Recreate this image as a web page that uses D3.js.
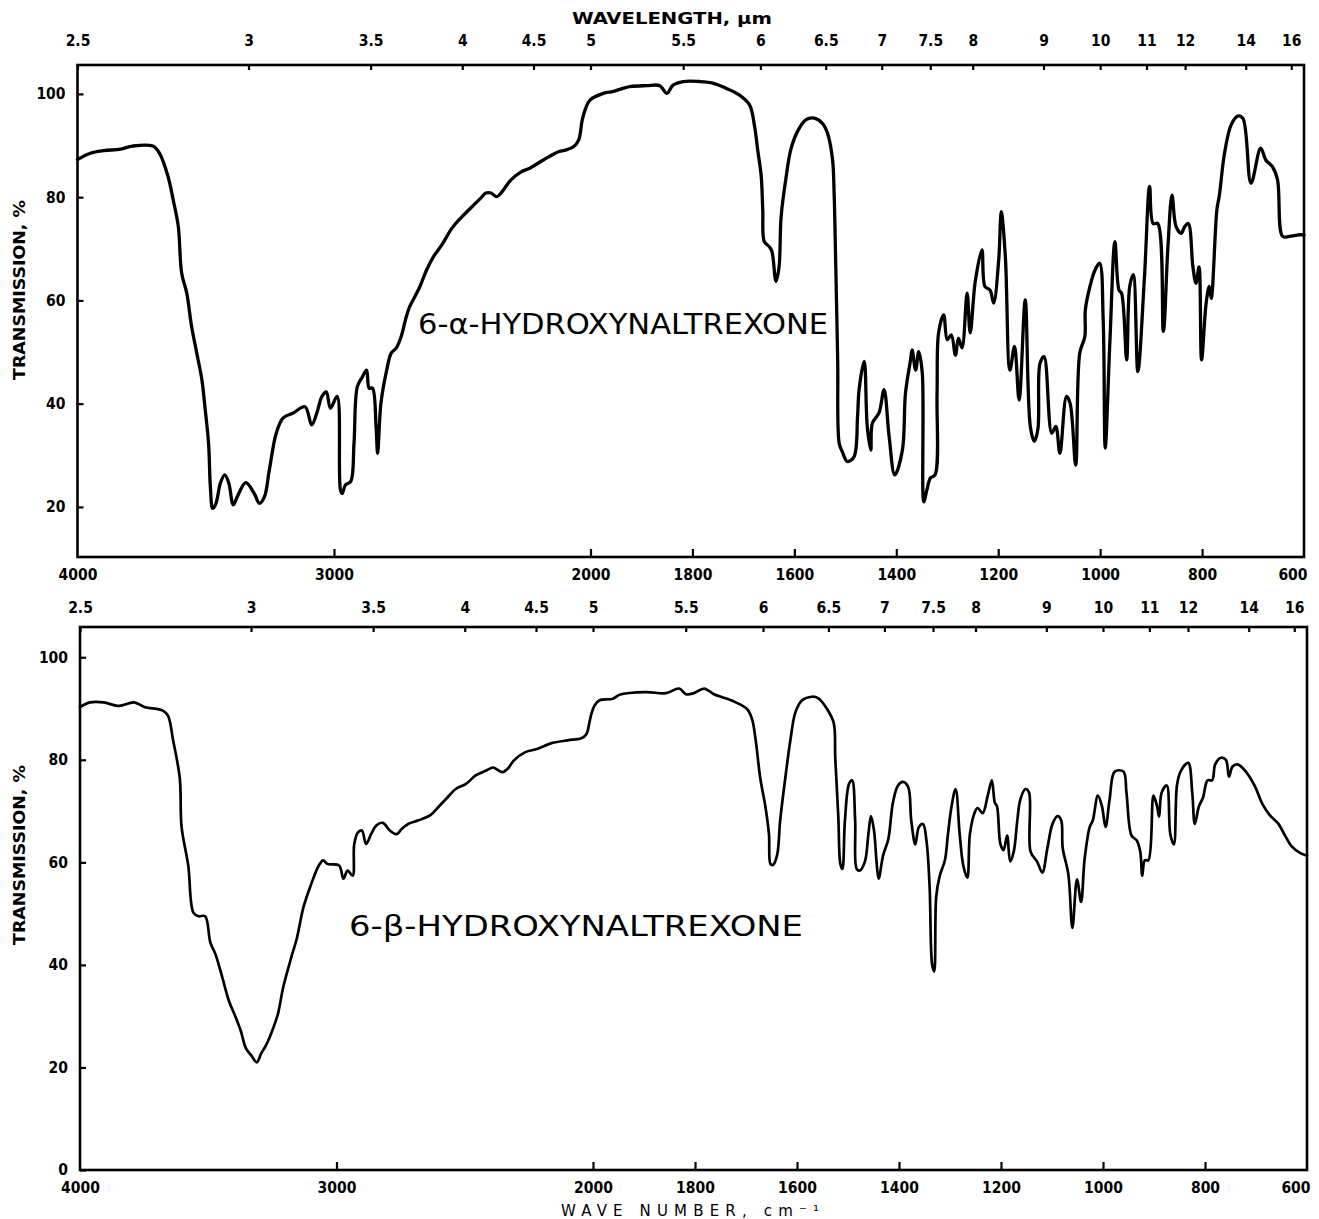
<!DOCTYPE html>
<html><head><meta charset="utf-8">
<script src="https://cdn.jsdelivr.net/npm/d3@7"></script>
<style>
body{margin:0;background:#fff;}
svg text{font-family:'DejaVu Sans Condensed','Liberation Sans Narrow','DejaVu Sans',sans-serif;font-stretch:condensed;fill:#000;}
</style></head><body>
<svg id="c" width="1319" height="1219"></svg>
<script>
// ---- data ----
const wavenumberTicks = [4000, 3000, 2000, 1800, 1600, 1400, 1200, 1000, 800, 600];
const wavelengthTicks = ["2.5","3","3.5","4","4.5","5","5.5","6","6.5","7","7.5","8","9","10","11","12","14","16"];
const transTicksTop = [20, 40, 60, 80, 100];
const transTicksBottom = [0, 20, 40, 60, 80, 100];
const compoundNames = ["6-α-HYDROXYNALTREXONE", "6-β-HYDROXYNALTREXONE"];

// [wavenumber cm-1, transmission %]
const alphaSpectrum = [[4000,87.3],[3950,88.5],[3897,89.0],[3832,89.3],[3785,89.9],[3706,89.9],[3680,88.5],[3647,84.0],[3627,79.5],[3607,74.3],[3594,65.3],[3574,61.4],[3555,54.9],[3535,49.8],[3515,44.6],[3502,38.8],[3489,32.3],[3482,23.9],[3473,19.7],[3460,20.7],[3443,24.6],[3426,26.2],[3410,24.6],[3393,20.4],[3377,22.0],[3344,24.7],[3311,22.6],[3291,20.7],[3271,22.0],[3252,27.2],[3225,34.3],[3199,37.2],[3159,38.2],[3113,39.4],[3087,35.9],[3067,38.2],[3047,41.4],[3030,42.3],[3014,39.1],[2988,41.4],[2975,23.3],[2968,22.6],[2955,24.3],[2935,24.9],[2922,32.3],[2909,43.3],[2889,45.2],[2873,46.5],[2863,43.0],[2850,43.0],[2836,35.6],[2830,30.4],[2817,40.1],[2797,45.9],[2777,49.8],[2757,50.8],[2738,53.0],[2718,56.9],[2705,58.8],[2685,60.7],[2665,62.7],[2639,65.9],[2612,68.5],[2579,70.8],[2540,74.0],[2507,75.9],[2461,78.2],[2428,79.8],[2408,80.8],[2388,80.8],[2366,80.1],[2349,80.8],[2309,83.4],[2270,84.9],[2237,85.6],[2184,87.2],[2125,88.8],[2092,89.2],[2065,89.8],[2046,91.1],[2032,95.0],[2019,97.2],[2002,98.8],[1975,100.1],[1955,100.5],[1923,101.4],[1890,101.6],[1864,101.6],[1850,100.1],[1838,101.7],[1818,102.4],[1786,102.4],[1760,102.1],[1734,101.1],[1708,99.8],[1688,97.9],[1678,93.7],[1672,89.2],[1665,84.0],[1662,77.5],[1659,71.4],[1649,70.4],[1644,69.5],[1636,63.7],[1630,66.5],[1626,76.2],[1616,84.0],[1607,89.2],[1594,92.7],[1577,95.0],[1561,95.3],[1545,94.3],[1535,92.4],[1525,87.2],[1522,80.8],[1519,67.9],[1515,48.5],[1512,32.3],[1506,30.7],[1496,28.8],[1483,29.7],[1476,37.5],[1473,42.7],[1463,48.2],[1457,35.6],[1450,31.0],[1447,36.2],[1434,38.2],[1424,42.7],[1414,33.6],[1403,26.2],[1388,31.0],[1382,42.0],[1372,48.5],[1369,50.4],[1362,46.5],[1356,50.1],[1349,45.9],[1346,21.0],[1340,23.3],[1333,25.6],[1324,26.2],[1320,42.0],[1317,53.7],[1307,57.2],[1300,52.4],[1292,53.3],[1284,49.4],[1278,52.7],[1271,50.8],[1261,61.4],[1255,53.7],[1245,63.7],[1232,69.8],[1226,62.7],[1216,62.0],[1209,59.5],[1199,67.9],[1194,77.2],[1186,68.5],[1177,46.5],[1168,51.1],[1159,40.7],[1147,60.1],[1137,35.6],[1129,32.7],[1122,35.2],[1118,47.8],[1110,49.1],[1095,34.3],[1087,35.6],[1079,30.4],[1066,41.4],[1059,40.1],[1048,28.1],[1040,49.8],[1030,53.0],[1029,58.2],[1020,62.7],[1010,65.9],[1001,67.2],[994,56.2],[990,31.4],[981,51.7],[971,71.4],[963,62.0],[958,61.4],[948,48.5],[942,62.7],[935,65.0],[926,46.2],[913,64.6],[903,82.1],[896,74.9],[887,74.9],[876,54.0],[867,70.4],[859,80.4],[851,74.3],[841,73.0],[834,74.3],[827,74.9],[818,66.5],[812,63.3],[806,66.5],[801,48.5],[792,59.5],[786,62.7],[782,60.4],[771,77.5],[766,80.4],[756,88.5],[743,94.0],[730,95.7],[720,95.3],[704,82.7],[685,89.5],[675,87.2],[662,85.9],[652,83.4],[642,72.4],[629,72.4],[610,72.7],[600,72.7]];

const betaSpectrum = [[4000,90.3],[3960,91.2],[3908,91.2],[3848,90.5],[3789,91.2],[3749,90.3],[3677,89.6],[3657,88.6],[3637,83.8],[3611,76.4],[3604,66.9],[3578,59.4],[3558,50.2],[3538,49.5],[3512,49.5],[3492,44.4],[3472,42.1],[3446,37.7],[3419,32.9],[3393,29.8],[3373,27.1],[3353,23.7],[3333,22.4],[3311,21.0],[3294,22.7],[3274,24.4],[3248,27.5],[3228,30.5],[3208,35.6],[3175,41.7],[3155,45.1],[3129,51.2],[3102,55.3],[3069,59.4],[3052,60.4],[3036,59.7],[2990,59.4],[2973,56.8],[2957,58.4],[2937,57.4],[2931,63.5],[2917,65.8],[2901,66.2],[2885,63.6],[2865,65.5],[2845,67.2],[2819,67.7],[2792,66.2],[2766,65.5],[2746,66.5],[2720,67.5],[2680,68.2],[2634,69.2],[2601,70.9],[2574,72.3],[2535,74.3],[2495,75.3],[2456,77.0],[2416,77.9],[2390,78.5],[2374,78.1],[2353,77.6],[2330,78.4],[2310,79.8],[2264,81.5],[2218,82.1],[2165,83.2],[2099,83.8],[2046,84.2],[2026,85.0],[2013,87.5],[2006,89.0],[1997,90.6],[1987,91.6],[1961,91.9],[1948,92.7],[1896,93.2],[1857,93.0],[1831,93.9],[1818,92.8],[1802,93.0],[1782,93.9],[1763,92.8],[1740,92.0],[1720,91.2],[1698,89.9],[1688,87.9],[1681,83.8],[1672,76.4],[1662,70.9],[1655,65.5],[1652,59.7],[1647,59.5],[1639,61.4],[1633,68.2],[1623,76.4],[1613,83.8],[1603,89.3],[1590,91.6],[1571,92.3],[1558,92.0],[1541,89.9],[1528,87.2],[1525,80.4],[1519,68.9],[1515,59.7],[1511,58.7],[1506,68.2],[1498,75.3],[1492,76.0],[1486,68.2],[1483,58.7],[1477,58.4],[1467,60.1],[1460,65.5],[1455,69.0],[1449,66.2],[1444,60.1],[1440,56.8],[1431,61.4],[1421,64.5],[1412,71.6],[1402,75.0],[1392,75.7],[1382,74.7],[1376,68.2],[1368,63.5],[1361,66.9],[1353,67.5],[1346,64.1],[1340,55.3],[1335,40.0],[1331,38.7],[1327,53.3],[1320,57.4],[1310,60.4],[1304,65.5],[1297,70.9],[1289,74.3],[1281,65.5],[1274,59.4],[1266,57.0],[1261,65.5],[1252,69.6],[1246,70.6],[1236,69.6],[1226,73.0],[1218,76.0],[1212,71.6],[1208,71.0],[1201,63.5],[1195,62.4],[1188,65.2],[1182,60.2],[1175,62.1],[1168,68.2],[1162,72.3],[1152,74.3],[1145,73.6],[1142,62.1],[1129,60.1],[1119,58.0],[1109,62.8],[1099,67.5],[1089,69.0],[1082,68.2],[1079,62.8],[1068,57.7],[1060,47.2],[1051,56.7],[1043,52.3],[1036,60.7],[1026,66.9],[1020,68.2],[1010,73.0],[1002,70.9],[995,66.9],[987,72.3],[977,77.7],[960,77.7],[954,73.6],[944,65.2],[934,64.3],[927,62.1],[923,57.4],[918,60.4],[911,60.4],[901,73.0],[894,70.9],[890,68.9],[885,73.6],[875,75.0],[868,65.5],[861,63.5],[855,75.0],[848,77.7],[833,79.4],[825,73.6],[820,67.5],[812,70.9],[804,72.6],[795,76.0],[786,76.0],[780,79.1],[769,80.4],[759,80.0],[753,76.7],[746,78.7],[736,79.1],[720,77.7],[703,75.0],[687,71.3],[673,69.2],[656,67.5],[643,65.2],[630,63.1],[613,61.8],[600,61.3]];

// ---- layout ----
const panels = [
  {name: compoundNames[0], data: alphaSpectrum, xr: [77.5, 590.5, 1304], yd: [10.3, 105.6], yr: [557, 65],
   yTicks: transTicksTop, nameX: 418, nameY: 334, nameLen: 410, lw: 3.3, wlY: 46, wnY: 580, ylabY: 290},
  {name: compoundNames[1], data: betaSpectrum, xr: [80, 593, 1307], yd: [0, 105.9], yr: [1170, 627],
   yTicks: transTicksBottom, nameX: 349, nameY: 936, nameLen: 454, lw: 2.7, wlY: 613, wnY: 1193, ylabY: 855}
];

const svg = d3.select('#c');
const tickFont = {size: '15.5px', weight: 'bold'};

panels.forEach(p => {
  const x = d3.scaleLinear().domain([4000, 2000, 600]).range(p.xr);
  const y = d3.scaleLinear().domain(p.yd).range(p.yr);
  const g = svg.append('g');

  // frame
  g.append('rect')
    .attr('x', x(4000)).attr('y', y(p.yd[1]))
    .attr('width', x(600) - x(4000)).attr('height', y(p.yd[0]) - y(p.yd[1]))
    .attr('fill', 'none').attr('stroke', '#000').attr('stroke-width', 2.6);

  // left axis (transmission)
  const ya = g.append('g').attr('transform', `translate(${x(4000)},0)`)
    .call(d3.axisLeft(y).tickValues(p.yTicks).tickSize(-6).tickPadding(12).tickFormat(d3.format('d')));
  ya.select('.domain').remove();
  ya.selectAll('line').attr('stroke-width', 2.2);
  ya.selectAll('text').style('font-size', tickFont.size).style('font-weight', tickFont.weight).attr('font-family', null);

  // bottom axis (wavenumber)
  const xa = g.append('g').attr('transform', `translate(0,${y(p.yd[0])})`)
    .call(d3.axisBottom(x).tickValues(wavenumberTicks).tickSize(-8).tickFormat(d3.format('d')));
  xa.select('.domain').remove();
  xa.selectAll('line').attr('stroke-width', 2.2)
    .attr('opacity', d => (d === 4000 || d === 600) ? 0 : 1);
  xa.selectAll('text').attr('y', p.wnY - y(p.yd[0])).attr('dy', null)
    .style('font-size', tickFont.size).style('font-weight', tickFont.weight)
    .attr('text-anchor', d => d === 600 ? 'end' : 'middle')
    .attr('x', d => d === 600 ? 3 : 0);

  // top axis (wavelength, µm)
  const wl = wavelengthTicks.map(s => 10000 / parseFloat(s));
  const ta = g.append('g').attr('transform', `translate(0,${y(p.yd[1])})`)
    .call(d3.axisTop(x).tickValues(wl).tickSize(-5).tickFormat((d, i) => wavelengthTicks[i]));
  ta.select('.domain').remove();
  ta.selectAll('line').attr('stroke-width', 2.2);
  ta.selectAll('text').attr('y', p.wlY - y(p.yd[1])).attr('dy', null)
    .style('font-size', tickFont.size).style('font-weight', tickFont.weight);

  // spectrum
  const line = d3.line().x(d => x(d[0])).y(d => y(d[1])).curve(d3.curveCatmullRom.alpha(0.5));
  g.append('path').datum(p.data).attr('d', line)
    .attr('fill', 'none').attr('stroke', '#000').attr('stroke-width', p.lw)
    .attr('stroke-linejoin', 'round').attr('stroke-linecap', 'round');

  // compound name
  g.append('text').attr('x', p.nameX).attr('y', p.nameY)
    .attr('textLength', p.nameLen).attr('lengthAdjust', 'spacingAndGlyphs')
    .style('font-family', "'DejaVu Sans',sans-serif").style('font-stretch', 'normal')
    .style('font-size', '28px').text(p.name);

  // y label
  g.append('text').attr('transform', `translate(25,${p.ylabY}) rotate(-90)`)
    .attr('text-anchor', 'middle').attr('textLength', 180).attr('lengthAdjust', 'spacingAndGlyphs')
    .style('font-size', '15px').style('font-weight', 'bold')
    .text('TRANSMISSION, %');
});

svg.append('text').attr('x', 672).attr('y', 24).attr('text-anchor', 'middle')
  .attr('textLength', 200).attr('lengthAdjust', 'spacingAndGlyphs')
  .style('font-size', '15px').style('font-weight', 'bold').text('WAVELENGTH, μm');
svg.append('text').attr('x', 690).attr('y', 1216).attr('text-anchor', 'middle')
  .attr('textLength', 258).attr('lengthAdjust', 'spacing')
  .style('font-family', "'DejaVu Sans',sans-serif").style('font-stretch', 'normal')
  .style('font-size', '15px').text('WAVE NUMBER, cm⁻¹');
</script>
</body></html>
